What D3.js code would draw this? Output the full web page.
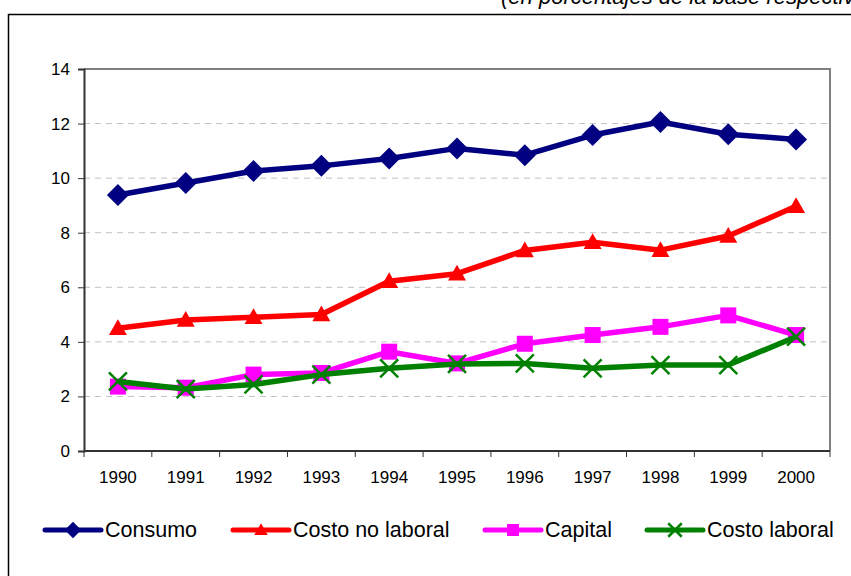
<!DOCTYPE html>
<html>

<head>
    <meta charset="utf-8">
    <title>Index</title>
    <script src="https://cdn.jsdelivr.net/npm/d3@7"></script>
    <style>
        body { margin: 0; background: #fff; }
        svg { display: block; font-family: "Liberation Sans", Arial, sans-serif; }
    </style>
</head>

<body>
    <script>
    var years = ['1990', '1991', '1992', '1993', '1994', '1995', '1996', '1997', '1998', '1999', '2000'];
    var consumo = [9.38, 9.82, 10.26, 10.45, 10.72, 11.09, 10.84, 11.58, 12.06, 11.61, 11.42];
    var costoNoLaboral = [4.5, 4.8, 4.9, 5.0, 6.22, 6.5, 7.35, 7.65, 7.36, 7.88, 8.97];
    var capital = [2.36, 2.32, 2.8, 2.86, 3.64, 3.21, 3.93, 4.25, 4.55, 4.97, 4.25];
    var costoLaboral = [2.55, 2.27, 2.44, 2.8, 3.03, 3.19, 3.21, 3.03, 3.15, 3.15, 4.19];
    var yTicks = [0, 2, 4, 6, 8, 10, 12, 14];

    var series = [
        { name: 'Consumo', values: consumo, color: '#000080', marker: 'diamond' },
        { name: 'Costo no laboral', values: costoNoLaboral, color: '#ff0000', marker: 'triangle' },
        { name: 'Capital', values: capital, color: '#ff00ff', marker: 'square' },
        { name: 'Costo laboral', values: costoLaboral, color: '#008000', marker: 'cross' }
    ];

    var W = 851, H = 576;
    var plot = { left: 84, right: 830, top: 69, bottom: 451 };

    var svg = d3.select('body').append('svg')
        .attr('width', W)
        .attr('height', H);

    // subtitle, cut off at top like the original page
    svg.append('text')
        .attr('x', 874)
        .attr('y', 4)
        .attr('text-anchor', 'end')
        .style('font-size', '22px')
        .style('font-style', 'italic')
        .text('(en porcentajes de la base respectiva)');

    // outer chart frame
    svg.append('rect')
        .attr('x', 8.5).attr('y', 14.5)
        .attr('width', W + 20).attr('height', H + 20)
        .attr('fill', 'none')
        .attr('stroke', '#000')
        .attr('stroke-width', 1.5);

    var x = d3.scaleBand().domain(years).range([plot.left, plot.right]);
    var y = d3.scaleLinear().domain([0, 14]).range([plot.bottom, plot.top]);

    // gridlines
    svg.append('g')
        .selectAll('line')
        .data(yTicks.filter(function(d) { return d > 0 && d < 14; }))
        .enter()
        .append('line')
        .attr('x1', plot.left).attr('x2', plot.right)
        .attr('y1', function(d) { return y(d); })
        .attr('y2', function(d) { return y(d); })
        .attr('stroke', '#c0c0c0')
        .attr('stroke-dasharray', '6,5');

    // plot area border (top/right in gray)
    svg.append('path')
        .attr('d', 'M' + plot.left + ',' + plot.top + 'H' + plot.right + 'V' + plot.bottom)
        .attr('fill', 'none')
        .attr('stroke', '#808080')
        .attr('stroke-width', 2);

    // y axis
    var yAxis = svg.append('g')
        .attr('transform', 'translate(' + plot.left + ',0)')
        .call(d3.axisLeft(y).tickValues(yTicks).tickSize(6).tickPadding(8).tickFormat(d3.format('d')));

    // x axis: ticks between categories
    var xAxis = svg.append('g')
        .attr('transform', 'translate(0,' + plot.bottom + ')')
        .call(d3.axisBottom(x).tickSize(0).tickPadding(20));
    xAxis.selectAll('.tickmark')
        .data(years.concat(['end']))
        .enter()
        .append('line')
        .attr('class', 'tickmark')
        .attr('x1', function(d, i) { return i < years.length ? x(d) : plot.right; })
        .attr('x2', function(d, i) { return i < years.length ? x(d) : plot.right; })
        .attr('y1', 0).attr('y2', 6)
        .attr('stroke', '#333');

    [yAxis, xAxis].forEach(function(a) {
        a.attr('font-size', 17).attr('font-family', '"Liberation Sans", Arial, sans-serif');
        a.select('.domain').attr('stroke', '#333').attr('stroke-width', 2);
        a.selectAll('.tick line').attr('stroke', '#333');
        a.selectAll('text').attr('fill', '#000');
    });
    xAxis.select('.domain').attr('d', 'M' + plot.left + ',0H' + plot.right);

    function cx(i) { return x(years[i]) + x.bandwidth() / 2; }

    function drawMarker(g, type, color, px, py, scale) {
        var s = scale || 1;
        if (type === 'diamond') {
            var r = 11 * s;
            g.append('path')
                .attr('d', 'M' + px + ',' + (py - r) + 'L' + (px + r) + ',' + py + 'L' + px + ',' + (py + r) + 'L' + (px - r) + ',' + py + 'Z')
                .attr('fill', color);
        } else if (type === 'triangle') {
            var t = 9 * s;
            g.append('path')
                .attr('d', 'M' + px + ',' + (py - t) + 'L' + (px + t) + ',' + (py + t * 0.75) + 'L' + (px - t) + ',' + (py + t * 0.75) + 'Z')
                .attr('fill', color);
        } else if (type === 'square') {
            var q = 8 * s;
            g.append('rect')
                .attr('x', px - q).attr('y', py - q)
                .attr('width', 2 * q).attr('height', 2 * q)
                .attr('fill', color);
        } else {
            var c = 9 * s;
            g.append('path')
                .attr('d', 'M' + (px - c) + ',' + (py - c) + 'L' + (px + c) + ',' + (py + c) + 'M' + (px - c) + ',' + (py + c) + 'L' + (px + c) + ',' + (py - c))
                .attr('stroke', color)
                .attr('stroke-width', 2.5)
                .attr('fill', 'none');
        }
    }

    var line = d3.line()
        .x(function(d, i) { return cx(i); })
        .y(function(d) { return y(d); });

    series.forEach(function(s) {
        var g = svg.append('g');
        g.append('path')
            .datum(s.values)
            .attr('d', line)
            .attr('fill', 'none')
            .attr('stroke', s.color)
            .attr('stroke-width', 5.5)
            .attr('stroke-linejoin', 'round');
        s.values.forEach(function(v, i) {
            drawMarker(g, s.marker, s.color, cx(i), y(v));
        });
    });

    // legend
    var legendX = [45, 233, 485, 647];
    var legendY = 530;
    series.forEach(function(s, i) {
        var g = svg.append('g');
        var x0 = legendX[i];
        g.append('line')
            .attr('x1', x0).attr('x2', x0 + 56)
            .attr('y1', legendY).attr('y2', legendY)
            .attr('stroke', s.color)
            .attr('stroke-width', 5)
            .attr('stroke-linecap', 'round');
        drawMarker(g, s.marker, s.color, x0 + 28, legendY, 0.75);
        g.append('text')
            .attr('x', x0 + 60)
            .attr('y', legendY + 7)
            .style('font-size', '21.5px')
            .text(s.name);
    });
    </script>
</body>

</html>
